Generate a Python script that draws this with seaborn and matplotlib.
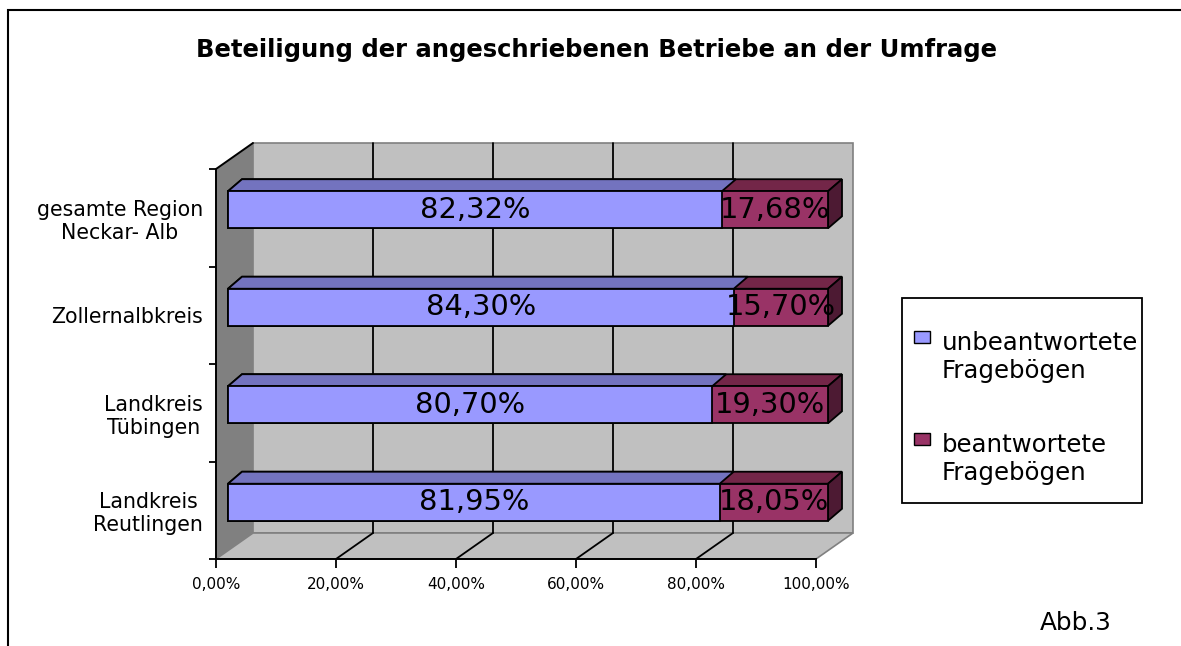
import numpy as np
import pandas as pd
import matplotlib
matplotlib.use("Agg")
import matplotlib.pyplot as plt
import seaborn as sns
from matplotlib.patches import Polygon, Rectangle
from matplotlib.lines import Line2D
from matplotlib.transforms import offset_copy
from matplotlib.legend_handler import HandlerPatch

# ---------------- data ----------------
categories = ["gesamte Region\nNeckar- Alb", "Zollernalbkreis",
              "Landkreis\nTübingen", "Landkreis\nReutlingen"]
unbeantwortet = [82.32, 84.30, 80.70, 81.95]
beantwortet = [17.68, 15.70, 19.30, 18.05]
series_names = ["unbeantwortete\nFragebögen", "beantwortete\nFragebögen"]
x_ticks = [0, 20, 40, 60, 80, 100]
title = "Beteiligung der angeschriebenen Betriebe an der Umfrage"
note = "Abb.3"


def pct(v):
    return f"{v:.2f}".replace(".", ",") + "%"


sns.set_style("white")
plt.rcParams["font.family"] = ["DejaVu Sans"]
plt.rcParams["text.color"] = "black"
plt.rcParams["axes.labelcolor"] = "black"
plt.rcParams["xtick.color"] = "black"
plt.rcParams["ytick.color"] = "black"

W, H = 1181, 646
fig = plt.figure(figsize=(W / 100, H / 100), dpi=100)
ax = fig.add_axes([216 / W, 1 - 559 / H, 600 / W, 390 / H])

df = pd.DataFrame({"Kreis": categories, "u": unbeantwortet, "b": beantwortet})
df["total"] = df["u"] + df["b"]

blue, blue_top = "#9999FF", "#7373BF"
red, red_top, red_side = "#993366", "#732648", "#4D1A33"
wall, wall_dark = "#C0C0C0", "#808080"

sns.barplot(data=df, y="Kreis", x="total", color=red, saturation=1, width=0.38,
            orient="h", edgecolor="black", linewidth=1.3, errorbar=None, ax=ax)
n_red = len(ax.patches)
sns.barplot(data=df, y="Kreis", x="u", color=blue, saturation=1, width=0.38,
            orient="h", edgecolor="black", linewidth=1.3, errorbar=None, ax=ax)
red_bars = list(ax.patches[:n_red])
blue_bars = list(ax.patches[n_red:])

n = len(categories)
ax.set_xlim(x_ticks[0], x_ticks[-1])
ax.set_ylim(n - 0.5, -0.5)
ax.set_xlabel("")
ax.set_ylabel("")
ax.patch.set_visible(False)

# pixel -> data conversion for the pseudo-3D depth
bb = ax.get_position()
ppx = bb.width * W / (x_ticks[-1] - x_ticks[0])
ppy = bb.height * H / n


def shift(x, y, dx, dy):
    return (x + dx / ppx, y - dy / ppy)


D = (37, 26)        # wall depth in pixels
BD = (14, 12)       # bar depth in pixels
ytop, ybot = -0.5, n - 0.5
x0a, x1a = x_ticks[0], x_ticks[-1]

# back wall
ax.add_patch(Polygon([shift(x0a, ytop, *D), shift(x1a, ytop, *D),
                      shift(x1a, ybot, *D), shift(x0a, ybot, *D)],
                     closed=True, facecolor=wall, edgecolor=wall_dark, lw=1.2,
                     zorder=0.5, clip_on=False))
# left wall
ax.add_patch(Polygon([(x0a, ytop), (x0a, ybot), shift(x0a, ybot, *D), shift(x0a, ytop, *D)],
                     closed=True, facecolor=wall_dark, edgecolor="none",
                     zorder=0.6, clip_on=False))
# floor
ax.add_patch(Polygon([(x0a, ybot), (x1a, ybot), shift(x1a, ybot, *D), shift(x0a, ybot, *D)],
                     closed=True, facecolor=wall, edgecolor=wall_dark, lw=1.2,
                     zorder=0.6, clip_on=False))
# left wall top edge
p0, p1 = (x0a, ytop), shift(x0a, ytop, *D)
ax.add_line(Line2D([p0[0], p1[0]], [p0[1], p1[1]], color="black", lw=1.4,
                   zorder=0.8, clip_on=False))
# gridlines on back wall and floor
for t in x_ticks[1:-1]:
    a, b = shift(t, ytop, *D), shift(t, ybot, *D)
    ax.add_line(Line2D([a[0], b[0]], [a[1], b[1]], color="black", lw=1.3,
                       zorder=0.7, clip_on=False))
    c = (t, ybot)
    ax.add_line(Line2D([c[0], b[0]], [c[1], b[1]], color="black", lw=1.3,
                       zorder=0.7, clip_on=False))

# bars in pseudo-3D
T = offset_copy(ax.transData, fig=fig, x=12, y=8, units="dots")


def faces(p, top_color, side_color, z):
    x0, w, y0, h = p.get_x(), p.get_width(), p.get_y(), p.get_height()
    top = Polygon([(x0, y0), (x0 + w, y0), shift(x0 + w, y0, *BD), shift(x0, y0, *BD)],
                  closed=True, facecolor=top_color, edgecolor="black", lw=1.3,
                  transform=T, zorder=z, clip_on=False)
    ax.add_patch(top)
    if side_color is not None:
        side = Polygon([(x0 + w, y0), (x0 + w, y0 + h), shift(x0 + w, y0 + h, *BD),
                        shift(x0 + w, y0, *BD)], closed=True, facecolor=side_color,
                       edgecolor="black", lw=1.3, transform=T, zorder=z, clip_on=False)
        ax.add_patch(side)


for p in red_bars:
    faces(p, red_top, red_side, 2.0)
    p.set_transform(T)
    p.set_clip_on(False)
    p.set_zorder(2.1)
for p in blue_bars:
    faces(p, blue_top, None, 2.2)
    p.set_transform(T)
    p.set_clip_on(False)
    p.set_zorder(2.3)

for i, (u, b) in enumerate(zip(unbeantwortet, beantwortet)):
    p = red_bars[i]
    yc = p.get_y() + p.get_height() / 2
    ax.text(u / 2, yc, pct(u), transform=T, ha="center", va="center",
            fontsize=20.8, color="black", zorder=5, clip_on=False)
    ax.text(u + b / 2, yc, pct(b), transform=T, ha="center", va="center",
            fontsize=20.8, color="black", zorder=5, clip_on=False)

# axes styling
for s in ["top", "right"]:
    ax.spines[s].set_visible(False)
for s in ["left", "bottom"]:
    ax.spines[s].set_color("black")
    ax.spines[s].set_linewidth(1.4)
    ax.spines[s].set_zorder(3)

ax.set_xticks(x_ticks, [pct(t) for t in x_ticks])
ax.tick_params(axis="x", length=6.5, width=1.3, pad=6.5, labelsize=11,
               direction="out", color="black", labelcolor="black", bottom=True)
ax.set_yticks(range(n), categories)
ax.set_yticks(np.arange(-0.5, n, 1.0), minor=True)
ax.tick_params(axis="y", which="major", length=0, pad=9.4, labelsize=14.8,
               labelcolor="black", left=True)
ax.tick_params(axis="y", which="minor", length=5, width=1.3, direction="out",
               color="black", left=True)
for lab in ax.get_yticklabels():
    lab.set_multialignment("center")
    lab.set_y(lab.get_position()[1])

# legend
def square(legend, orig_handle, xdescent, ydescent, width, height, fontsize):
    sq_w, sq_h = 11.5, 8.6
    return Rectangle((-xdescent, 1.22 * fontsize - sq_h / 2), sq_w, sq_h)


handles = [Rectangle((0, 0), 1, 1, facecolor=blue, edgecolor="black", lw=1.0),
           Rectangle((0, 0), 1, 1, facecolor=red, edgecolor="black", lw=1.0)]
leg = fig.legend(handles, series_names, loc="upper left",
                 bbox_to_anchor=(914 / W, 1 - 331 / H), borderaxespad=0,
                 borderpad=0, fontsize=17.6, frameon=False,
                 handlelength=11.5 / 17.6, handleheight=0.7, handletextpad=0.49,
                 labelspacing=2.07, labelcolor="black",
                 handler_map={Rectangle: HandlerPatch(patch_func=square)})
fig.add_artist(Rectangle((902 / W, 1 - 503 / H), 240 / W, 205 / H,
                         transform=fig.transFigure, fill=False,
                         edgecolor="black", lw=1.3))

# title, note and outer frame
fig.text(596 / W, 1 - 57 / H, title, ha="center", va="baseline",
         fontsize=17.5, fontweight="bold", color="black")
fig.text(1076 / W, 1 - 630 / H, note, ha="center", va="baseline", fontsize=17.8,
         color="black")
fig.add_artist(Rectangle((8 / W, -0.2), 1.5, 1.2 + (1 - 10 / H) - 1.0,
                         transform=fig.transFigure, fill=False,
                         edgecolor="black", lw=1.5))

fig.savefig("out.png", dpi=100, facecolor="white")
